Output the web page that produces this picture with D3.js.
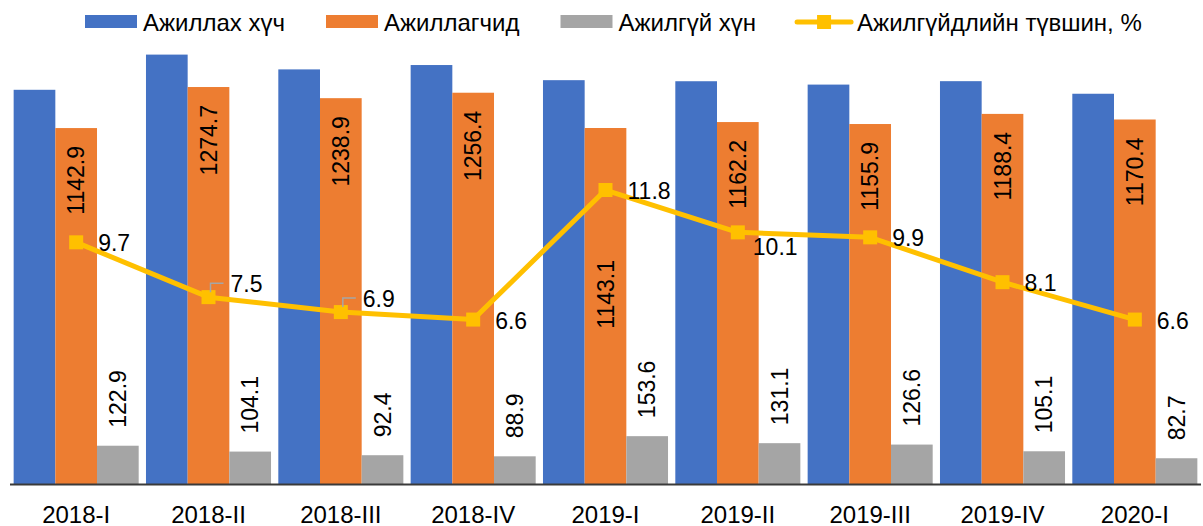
<!DOCTYPE html>
<html>
<head>
<meta charset="utf-8">
<script src="https://cdn.jsdelivr.net/npm/d3@7"></script>
<style>
  body { margin: 0; background: #fff; }
  text { font-family: "Liberation Sans", Arial, sans-serif; fill: #000; }
</style>
</head>
<body>
<div id="svg-container"></div>
<script>
// quarters on the x axis
const periods = ["2018-I", "2018-II", "2018-III", "2018-IV", "2019-I", "2019-II", "2019-III", "2019-IV", "2020-I"];

// bars, thousand persons
const laborForce = [1265.8, 1378.8, 1331.3, 1345.3, 1296.7, 1293.3, 1282.5, 1293.5, 1253.1];
const employed = [1142.9, 1274.7, 1238.9, 1256.4, 1143.1, 1162.2, 1155.9, 1188.4, 1170.4];
const unemployed = [122.9, 104.1, 92.4, 88.9, 153.6, 131.1, 126.6, 105.1, 82.7];

// line, %
const unempRate = [9.7, 7.5, 6.9, 6.6, 11.8, 10.1, 9.9, 8.1, 6.6];

const seriesNames = ["Ажиллах хүч", "Ажиллагчид", "Ажилгүй хүн"];
const lineName = "Ажилгүйдлийн түвшин, %";

// Set dimensions
const width = 1203;
const height = 526;

const BASE_Y = 484;
const TOP_Y = 48;
const LEFT_X = 10;
const RIGHT_X = 1201;

const COLORS = ["#4472C4", "#ED7D31", "#A5A5A5"];
const LINE_COLOR = "#FFC000";

const LABEL_SIZE = "23px";
const TICK_SIZE = "24px";
const LEGEND_SIZE = "24px";

const MARKER = 14;

const svg = d3
  .select("#svg-container")
  .append("svg")
  .attr("width", width)
  .attr("height", height);

// rows for the grouped bars
const rows = periods.map((p, i) => ({
  period: p,
  values: [laborForce[i], employed[i], unemployed[i]]
}));

const x0 = d3.scaleBand().domain(periods).range([LEFT_X, RIGHT_X]).paddingInner(0).paddingOuter(0);
const x1 = d3.scaleBand().domain([0, 1, 2]).range([0, x0.bandwidth()]).paddingInner(0).paddingOuter(0.0875);

const y = d3.scaleLinear().domain([0, 1400]).range([BASE_Y, TOP_Y]);
const y2 = d3.scaleLinear().domain([0, 17.5]).range([BASE_Y, TOP_Y]);

// =========== BARS =========== //
const groups = svg
  .append("g")
  .selectAll("g")
  .data(rows)
  .enter()
  .append("g")
  .attr("transform", (d) => `translate(${x0(d.period)},0)`);

groups
  .selectAll("rect")
  .data((d) => d.values.map((v, k) => ({ k: k, v: v })))
  .enter()
  .append("rect")
  .attr("x", (d) => x1(d.k))
  .attr("y", (d) => y(d.v))
  .attr("width", x1.bandwidth())
  .attr("height", (d) => BASE_Y - y(d.v))
  .attr("fill", (d) => COLORS[d.k]);

// employed labels: inside end (2019-I pushed down below the line)
groups
  .append("text")
  .attr("text-anchor", "end")
  .attr("dominant-baseline", "central")
  .style("font-size", LABEL_SIZE)
  .attr("transform", (d, i) => {
    const cx = x1(1) + x1.bandwidth() / 2;
    const cy = y(d.values[1]) + (i === 4 ? 132 : 18);
    return `translate(${cx},${cy}) rotate(-90)`;
  })
  .text((d) => d.values[1].toFixed(1));

// unemployed labels: outside end
groups
  .append("text")
  .attr("text-anchor", "start")
  .attr("dominant-baseline", "central")
  .style("font-size", LABEL_SIZE)
  .attr("transform", (d) => {
    const cx = x1(2) + x1.bandwidth() / 2;
    const cy = y(d.values[2]) - 18;
    return `translate(${cx},${cy}) rotate(-90)`;
  })
  .text((d) => d.values[2].toFixed(1));

// x axis line
svg
  .append("line")
  .attr("x1", LEFT_X)
  .attr("x2", RIGHT_X)
  .attr("y1", BASE_Y + 0.5)
  .attr("y2", BASE_Y + 0.5)
  .attr("stroke", "#3a3a3a")
  .attr("stroke-width", 2);

// tick labels
svg
  .append("g")
  .selectAll("text")
  .data(periods)
  .enter()
  .append("text")
  .attr("x", (d) => x0(d) + x0.bandwidth() / 2)
  .attr("y", 514)
  .attr("text-anchor", "middle")
  .attr("dominant-baseline", "central")
  .style("font-size", TICK_SIZE)
  .text((d) => d);

// =========== LINE =========== //
const pts = unempRate.map((v, i) => [x0(periods[i]) + x0.bandwidth() / 2, y2(v)]);

svg
  .append("path")
  .attr("d", d3.line()(pts))
  .attr("fill", "none")
  .attr("stroke", LINE_COLOR)
  .attr("stroke-width", 5)
  .attr("stroke-linejoin", "round");

svg
  .append("g")
  .selectAll("rect")
  .data(pts)
  .enter()
  .append("rect")
  .attr("x", (d) => d[0] - MARKER / 2)
  .attr("y", (d) => d[1] - MARKER / 2)
  .attr("width", MARKER)
  .attr("height", MARKER)
  .attr("fill", LINE_COLOR);

// label nudges (dx, dy) from the marker; leader lines where Excel drew them
const nudge = { 1: [22, -13], 2: [22, -13], 5: [15, 15] };
const leaders = [1, 2];

svg
  .append("g")
  .selectAll("path")
  .data(leaders)
  .enter()
  .append("path")
  .attr("d", (i) => {
    const [mx, my] = pts[i];
    return `M${mx + 2},${my - 5}V${my - 14}H${mx + 15}`;
  })
  .attr("fill", "none")
  .attr("stroke", "#A6A6A6")
  .attr("stroke-width", 1.5);

svg
  .append("g")
  .selectAll("text")
  .data(unempRate)
  .enter()
  .append("text")
  .attr("x", (d, i) => pts[i][0] + (nudge[i] ? nudge[i][0] : 22))
  .attr("y", (d, i) => pts[i][1] + (nudge[i] ? nudge[i][1] : 1))
  .attr("dominant-baseline", "central")
  .style("font-size", LABEL_SIZE)
  .text((d) => d.toFixed(1));

// =========== LEGEND =========== //
const legend = svg.append("g").attr("transform", "translate(0,22)");
let lx = 85;
seriesNames.concat([lineName]).forEach((name, k) => {
  if (k < 3) {
    legend
      .append("rect")
      .attr("x", lx)
      .attr("y", -7)
      .attr("width", 52)
      .attr("height", 13)
      .attr("fill", COLORS[k]);
  } else {
    legend
      .append("line")
      .attr("x1", lx)
      .attr("x2", lx + 54)
      .attr("y1", 0)
      .attr("y2", 0)
      .attr("stroke", LINE_COLOR)
      .attr("stroke-width", 5)
      .attr("stroke-linecap", "round");
    legend
      .append("rect")
      .attr("x", lx + 27 - MARKER / 2)
      .attr("y", -MARKER / 2)
      .attr("width", MARKER)
      .attr("height", MARKER)
      .attr("fill", LINE_COLOR);
  }
  const t = legend
    .append("text")
    .attr("x", lx + (k < 3 ? 58 : 60))
    .attr("y", 0)
    .attr("dominant-baseline", "central")
    .style("font-size", LEGEND_SIZE)
    .text(name);
  lx = lx + (k < 3 ? 58 : 60) + t.node().getComputedTextLength() + 41;
});
</script>
</body>
</html>
